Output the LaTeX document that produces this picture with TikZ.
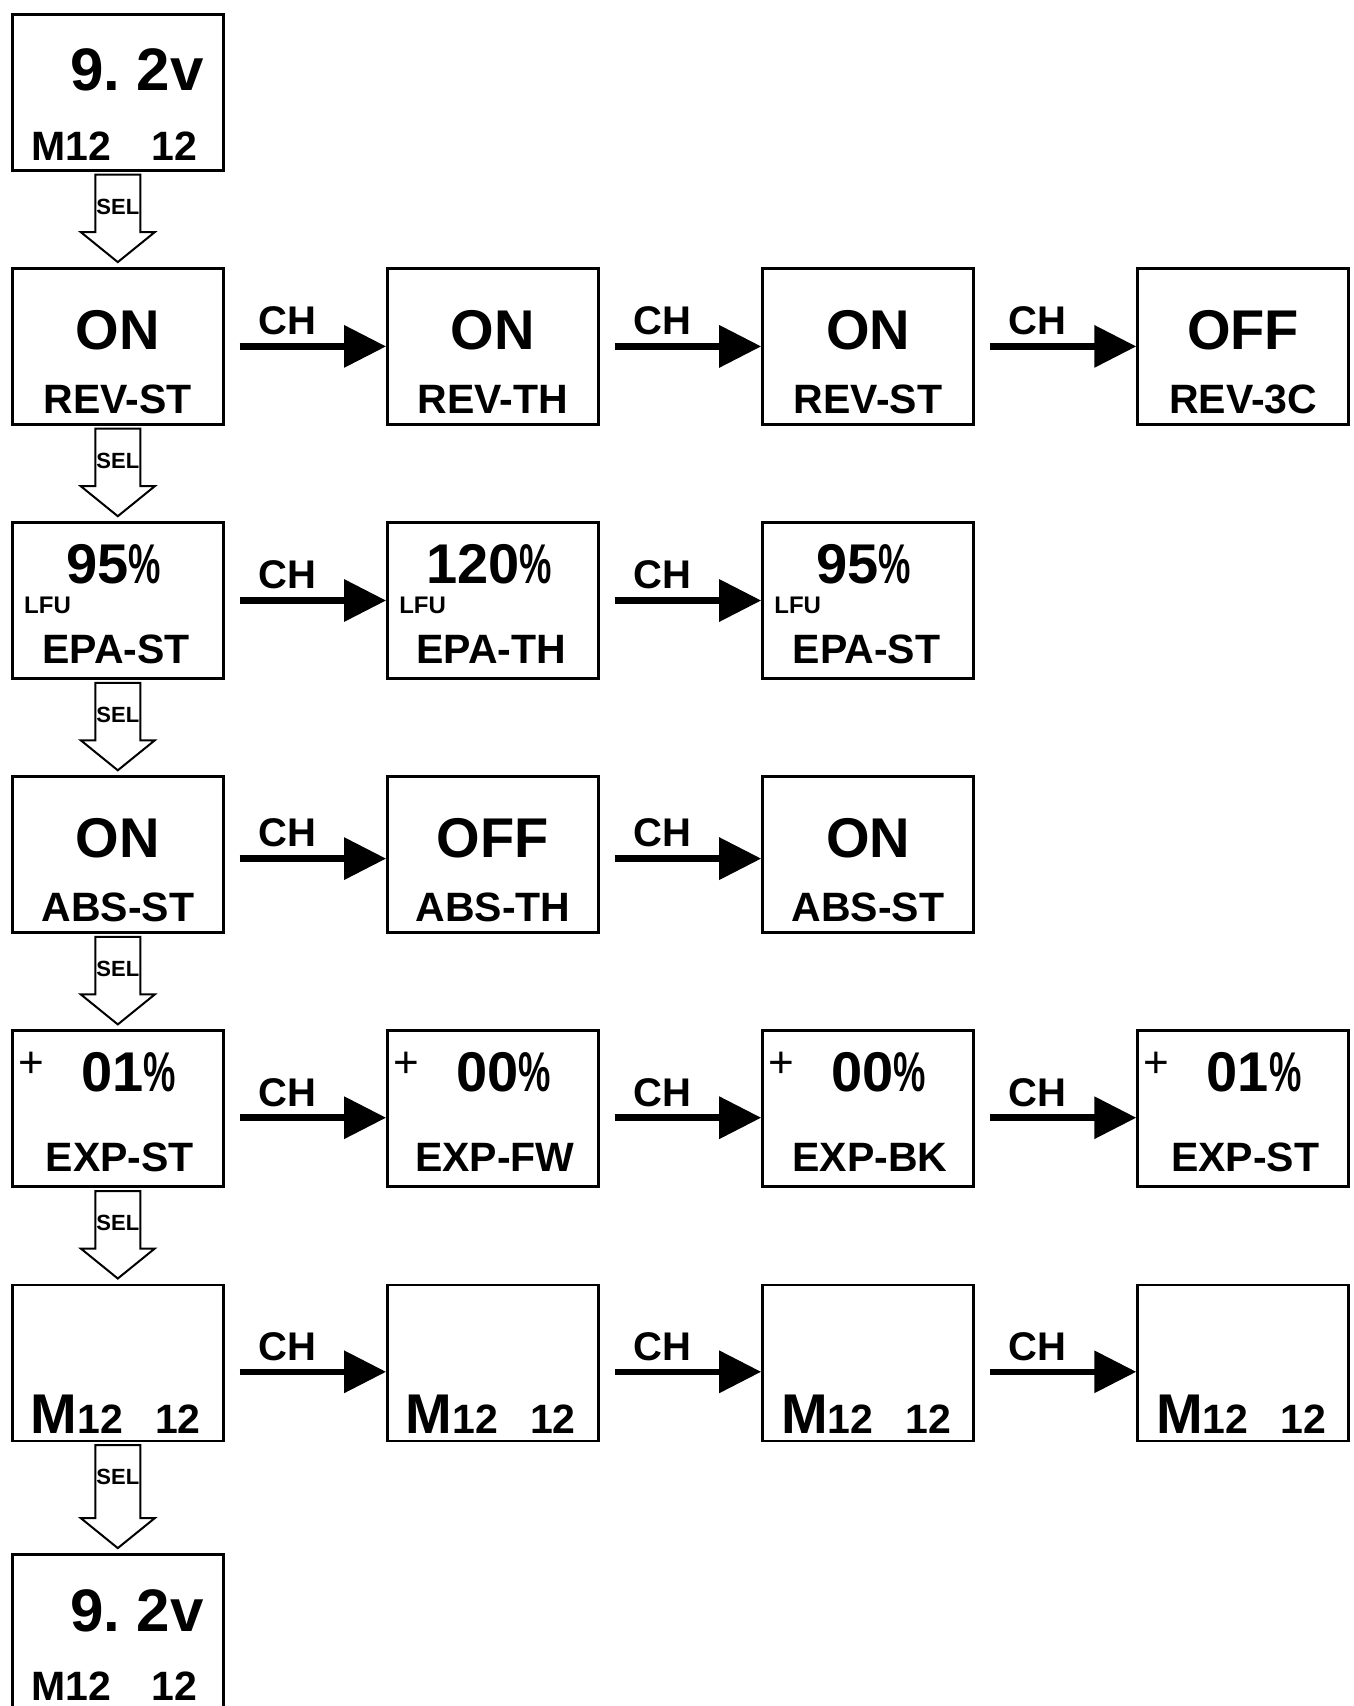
\documentclass[tikz,border=0pt]{standalone}
\usepackage{fontspec}
\setmainfont{Liberation Sans}
\usepackage{graphicx}
\usetikzlibrary{arrows.meta, positioning}
\newcommand{\narrowpct}{\scalebox{0.65}[1]{\%}}

\begin{document}
\begin{tikzpicture}[
    x=1pt, y=1pt,
    node distance=95.5pt and 161.5pt,
    lcd/.style={draw, line width=2.6pt, minimum width=211pt,
                minimum height=156pt, inner sep=0pt},
    hugetxt/.style={font=\fontsize{60}{60}\selectfont\bfseries, inner sep=0pt},
    bigtxt/.style={font=\fontsize{56}{56}\selectfont\bfseries, inner sep=0pt},
    midtxt/.style={font=\fontsize{41}{41}\selectfont\bfseries, inner sep=0pt},
    tinytxt/.style={font=\fontsize{24}{24}\selectfont\bfseries, inner sep=0pt},
    plustxt/.style={font=\fontsize{44}{44}\selectfont, inner sep=0pt},
    seltxt/.style={font=\fontsize{22}{22}\selectfont\bfseries, inner sep=0pt},
    chtxt/.style={font=\fontsize{40}{40}\selectfont\bfseries, inner sep=0pt,
                  above=8pt, pos=0.39},
    volts/.style={label={[hugetxt, xshift=19pt, yshift=22pt]center:9.\ 2v},
                  label={[midtxt, xshift=-3.5pt, yshift=-53.5pt]center:M12\hspace{40pt}12}},
    onoff/.style 2 args={label={[bigtxt, yshift=16pt]center:#1},
                         label={[midtxt, yshift=-53pt]center:#2}},
    epa/.style 2 args={label={[bigtxt, xshift=-4pt, yshift=36pt]center:#1},
                       label={[tinytxt, anchor=west, xshift=13pt, yshift=-4.5pt]west:LFU},
                       label={[midtxt, xshift=-1.5pt, yshift=-48.5pt]center:#2}},
    expo/.style 2 args={label={[plustxt, anchor=center, xshift=20pt, yshift=44pt]west:+},
                        label={[bigtxt, xshift=11pt, yshift=36pt]center:#1},
                        label={[midtxt, xshift=2pt, yshift=-48.5pt]center:#2}},
    model/.style={label={[anchor=base, xshift=-2pt, yshift=9pt]south:{\fontsize{56}{56}\selectfont\bfseries M}{\fontsize{41}{41}\selectfont\bfseries 12\hspace{32pt}12}}},
    selarrow/.style={draw, fill=white, line width=2pt},
    charrow/.style={-{Triangle[length=42pt, width=41pt]}, line width=6.5pt,
                    shorten <=15pt},
  ]
  \useasboundingbox (0,0) rectangle (1354,-1706);

  % linke Spalte: SEL-Kette
  \node[lcd, volts, anchor=north west] (volt) at (11,-13) {};
  \node[lcd, onoff={ON}{REV-ST}, below=of volt]   (revst) {};
  \node[lcd, epa={95\narrowpct}{EPA-ST}, below=of revst] (epast) {};
  \node[lcd, onoff={ON}{ABS-ST}, below=of epast]  (absst) {};
  \node[lcd, expo={01\narrowpct}{EXP-ST}, below=of absst] (expst) {};
  \node[lcd, model, below=of expst]               (mdl) {};
  \node[lcd, volts, below=111pt of mdl]           (volt2) {};

  % CH-Reihen
  \node[lcd, onoff={ON}{REV-TH}, right=of revst]   (revth) {};
  \node[lcd, onoff={ON}{REV-ST}, right=of revth]   (revst2) {};
  \node[lcd, onoff={OFF}{REV-3C}, right=of revst2] (rev3c) {};

  \node[lcd, epa={120\narrowpct}{EPA-TH}, right=of epast] (epath) {};
  \node[lcd, epa={95\narrowpct}{EPA-ST}, right=of epath]  (epast2) {};

  \node[lcd, onoff={OFF}{ABS-TH}, right=of absst] (absth) {};
  \node[lcd, onoff={ON}{ABS-ST}, right=of absth]  (absst2) {};

  \node[lcd, expo={00\narrowpct}{EXP-FW}, right=of expst] (expfw) {};
  \node[lcd, expo={00\narrowpct}{EXP-BK}, right=of expfw] (expbk) {};
  \node[lcd, expo={01\narrowpct}{EXP-ST}, right=of expbk] (expst2) {};

  \node[lcd, model, right=of mdl]  (mdl2) {};
  \node[lcd, model, right=of mdl2] (mdl3) {};
  \node[lcd, model, right=of mdl3] (mdl4) {};

  % SEL-Pfeile
  \foreach \a/\b in {volt/revst, revst/epast, epast/absst, absst/expst, expst/mdl, mdl/volt2} {
    \draw[selarrow] ([xshift=-22.5pt, yshift=-3pt]\a.south)
      -- ([xshift=-22.5pt, yshift=35pt]\b.north) -- ([xshift=-37pt, yshift=35pt]\b.north)
      -- ([yshift=5pt]\b.north)
      -- ([xshift=37pt, yshift=35pt]\b.north) -- ([xshift=22.5pt, yshift=35pt]\b.north)
      -- ([xshift=22.5pt, yshift=-3pt]\a.south) -- cycle;
    \node[seltxt] (sel-\a) at ([yshift=-35pt]\a.south) {SEL};
  }

  % CH-Pfeile
  \foreach \a/\b/\dy in {revst/revth/0, revth/revst2/0, revst2/rev3c/0,
                         epast/epath/0, epath/epast2/0,
                         absst/absth/-4, absth/absst2/-4,
                         expst/expfw/-9, expfw/expbk/-9, expbk/expst2/-9,
                         mdl/mdl2/-9, mdl2/mdl3/-9, mdl3/mdl4/-9}
    \draw[charrow] ([yshift=\dy pt]\a.east) -- node[chtxt] (ch-\a) {CH} ([yshift=\dy pt]\b.west);
\end{tikzpicture}
\end{document}
